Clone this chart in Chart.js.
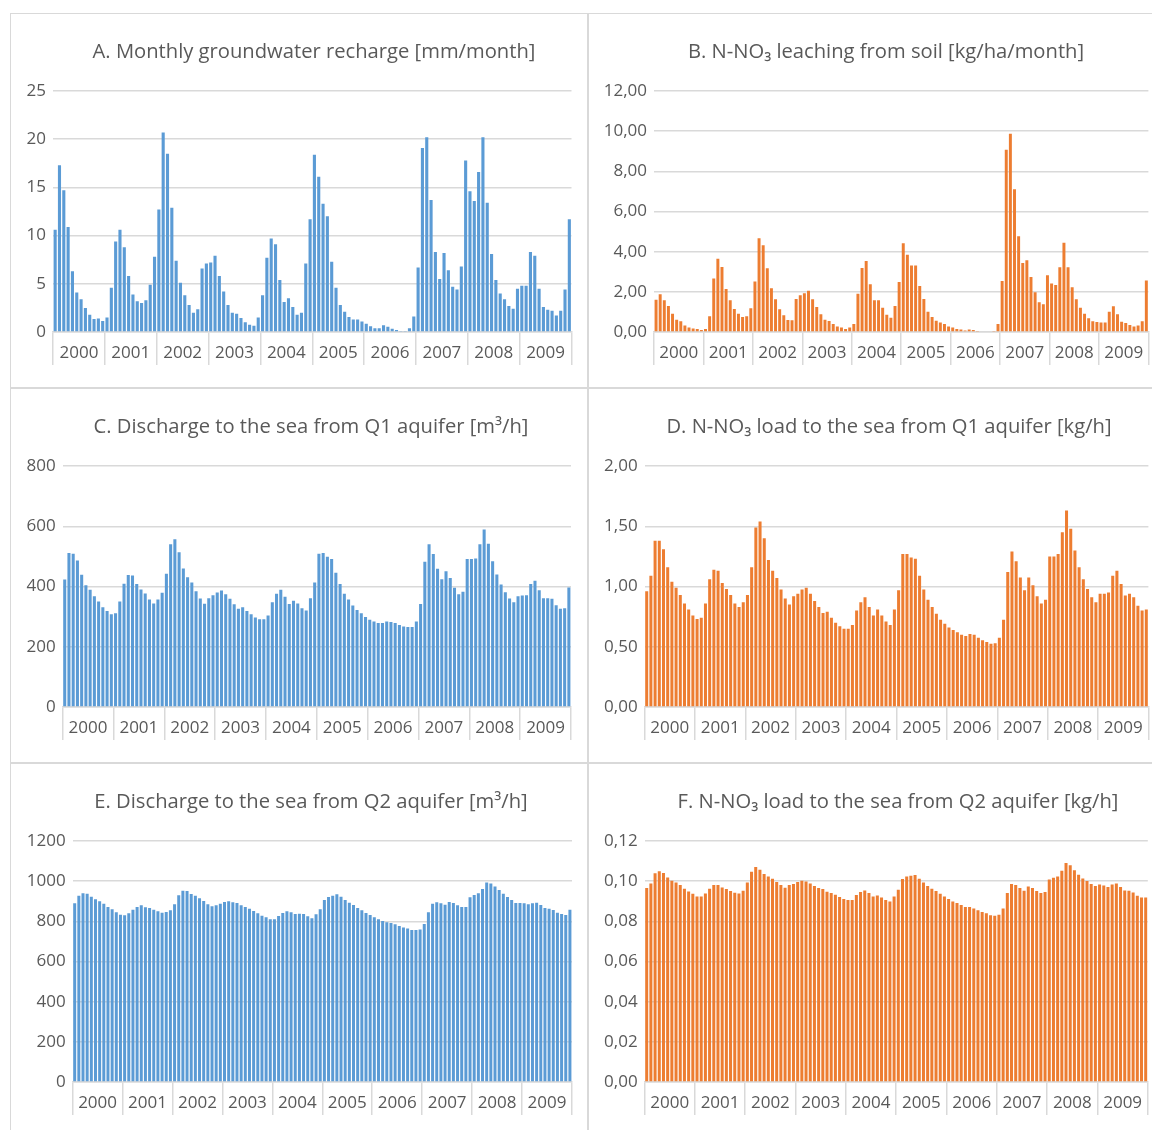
<!DOCTYPE html>
<html>
<head>
<meta charset="utf-8">
<script src="https://cdn.jsdelivr.net/npm/chart.js@4.4.1/dist/chart.umd.min.js"></script>
<style>
body { margin: 0; background: #fff; width: 1152px; height: 1130px; overflow: hidden; position: relative; }
.panel { position: absolute; width: 578px; height: 375px; box-shadow: inset 0 0 0 1px #d9d9d9; }
</style>
</head>
<body>
<div class="panel" style="left:10px; top:13px"><canvas id="chartA"></canvas></div>
<div class="panel" style="left:588px; top:13px"><canvas id="chartB"></canvas></div>
<div class="panel" style="left:10px; top:388px"><canvas id="chartC"></canvas></div>
<div class="panel" style="left:588px; top:388px"><canvas id="chartD"></canvas></div>
<div class="panel" style="left:10px; top:763px"><canvas id="chartE"></canvas></div>
<div class="panel" style="left:588px; top:763px"><canvas id="chartF"></canvas></div>
<script>
const years = ['2000', '2001', '2002', '2003', '2004', '2005', '2006', '2007', '2008', '2009'];

// monthly values, jan 2000 .. dec 2009
const recharge = [
  10.6, 17.3, 14.7, 10.9, 6.3, 4.1, 3.4, 2.5, 1.8, 1.35, 1.4, 1.15,
  1.5, 4.6, 9.4, 10.6, 8.8, 5.8, 3.9, 3.2, 3.0, 3.3, 4.9, 7.8,
  12.7, 20.7, 18.5, 12.9, 7.4, 5.1, 3.8, 2.8, 2.0, 2.35, 6.6, 7.1,
  7.2, 7.9, 5.8, 4.2, 2.8, 2.0, 1.9, 1.45, 1.0, 0.75, 0.65, 1.5,
  3.8, 7.7, 9.7, 9.1, 5.4, 3.1, 3.5, 2.6, 1.8, 2.0, 7.1, 11.7,
  18.4, 16.1, 13.3, 12.0, 7.3, 4.6, 2.8, 2.1, 1.55, 1.3, 1.3, 1.1,
  0.85, 0.6, 0.4, 0.4, 0.7, 0.55, 0.35, 0.2, 0.1, 0.1, 0.4, 1.6,
  6.7, 19.1, 20.2, 13.7, 8.3, 5.5, 8.2, 6.4, 4.7, 4.4, 6.8, 17.8,
  14.6, 13.6, 16.6, 20.2, 13.4, 8.1, 5.4, 4.0, 3.4, 2.7, 2.4, 4.5,
  4.8, 4.8, 8.3, 7.9, 4.5, 2.6, 2.3, 2.2, 1.7, 2.2, 4.4, 11.7
];
const leaching = [
  1.6, 1.88, 1.58, 1.3, 0.91, 0.61, 0.53, 0.32, 0.23, 0.18, 0.15, 0.1,
  0.15, 0.78, 2.66, 3.65, 3.24, 2.14, 1.58, 1.15, 0.91, 0.75, 0.78, 1.18,
  2.52, 4.67, 4.32, 3.17, 2.18, 1.63, 1.13, 0.83, 0.6, 0.58, 1.64, 1.83,
  1.93, 2.06, 1.63, 1.25, 0.88, 0.61, 0.55, 0.4, 0.27, 0.22, 0.15, 0.23,
  0.4, 1.9, 3.19, 3.54, 2.38, 1.58, 1.58, 1.21, 0.86, 0.71, 1.3, 2.49,
  4.42, 3.85, 3.31, 3.31, 2.29, 1.64, 1.01, 0.75, 0.56, 0.47, 0.4, 0.28,
  0.23, 0.15, 0.12, 0.08, 0.13, 0.1, 0.05, 0, 0, 0, 0.05, 0.4,
  2.54, 9.07, 9.87, 7.11, 4.77, 3.44, 3.57, 2.74, 1.98, 1.48, 1.38, 2.82,
  2.41, 2.34, 3.22, 4.45, 3.22, 2.23, 1.63, 1.21, 0.91, 0.68, 0.53, 0.5,
  0.47, 0.47, 1.01, 1.28, 0.88, 0.51, 0.45, 0.35, 0.27, 0.32, 0.53, 2.56
];
const dischargeQ1 = [
  423, 511, 509, 486, 439, 404, 389, 368, 350, 331, 319, 308,
  311, 350, 409, 438, 437, 408, 390, 377, 357, 344, 357, 379,
  442, 540, 557, 514, 460, 431, 413, 384, 360, 343, 361, 371,
  380, 387, 374, 359, 341, 326, 331, 319, 308, 297, 291, 291,
  304, 348, 376, 389, 366, 342, 353, 344, 328, 320, 361, 413,
  509, 511, 499, 491, 446, 408, 376, 357, 337, 322, 311, 299,
  290, 284, 279, 279, 284, 282, 279, 272, 267, 266, 266, 284,
  342, 482, 540, 508, 459, 424, 451, 428, 396, 374, 383, 491,
  491, 493, 540, 589, 542, 484, 440, 407, 381, 360, 348, 368,
  370, 371, 408, 419, 388, 361, 361, 359, 338, 326, 328, 397
];
const loadQ1 = [
  0.96, 1.09, 1.38, 1.38, 1.31, 1.16, 1.04, 0.99, 0.93, 0.86, 0.81, 0.76,
  0.73, 0.74, 0.86, 1.06, 1.14, 1.13, 1.03, 0.98, 0.93, 0.86, 0.83, 0.87,
  0.93, 1.16, 1.49, 1.54, 1.40, 1.22, 1.13, 1.07, 0.975, 0.90, 0.85, 0.92,
  0.94, 0.975, 0.99, 0.94, 0.88, 0.83, 0.78, 0.79, 0.74, 0.70, 0.67, 0.65,
  0.65, 0.68, 0.80, 0.87, 0.91, 0.83, 0.76, 0.81, 0.76, 0.71, 0.68, 0.81,
  0.97, 1.27, 1.27, 1.24, 1.23, 1.09, 0.975, 0.89, 0.83, 0.775, 0.725, 0.69,
  0.66, 0.64, 0.62, 0.60, 0.59, 0.605, 0.60, 0.575, 0.555, 0.54, 0.525, 0.53,
  0.575, 0.725, 1.12, 1.29, 1.21, 1.075, 0.97, 1.075, 1.01, 0.92, 0.86, 0.89,
  1.25, 1.25, 1.27, 1.45, 1.63, 1.48, 1.30, 1.16, 1.06, 0.98, 0.91, 0.87,
  0.94, 0.94, 0.95, 1.09, 1.13, 1.02, 0.925, 0.94, 0.91, 0.84, 0.80, 0.81
];
const dischargeQ2 = [
  890, 928, 940, 938, 923, 910, 900, 888, 872, 860, 845, 833,
  830, 840, 858, 872, 880, 870, 866, 858, 850, 843, 847, 855,
  885, 930, 953, 951, 936, 928, 915, 901, 885, 875, 880, 888,
  896, 900, 895, 891, 880, 872, 863, 852, 840, 828, 820, 810,
  810, 827, 842, 850, 845, 837, 838, 837, 825, 815, 835, 860,
  906, 921, 928, 935, 923, 906, 893, 881, 867, 855, 842, 832,
  820, 810, 802, 795, 792, 785, 777, 769, 764, 757, 757, 760,
  787, 845, 888, 895, 890, 883, 896, 891, 880, 872, 872, 920,
  931, 940, 961, 994, 989, 973, 956, 938, 921, 906, 891, 891,
  890, 885, 890, 893, 881, 867, 863, 857, 843, 837, 832, 858
];
const loadQ2 = [
  0.0966, 0.0989, 0.1039, 0.1049, 0.1041, 0.1019, 0.1002, 0.0993, 0.0981, 0.0963, 0.0949, 0.0938,
  0.0924, 0.0924, 0.0939, 0.0963, 0.0981, 0.0981, 0.0969, 0.0961, 0.0951, 0.0943, 0.0939, 0.0953,
  0.0993, 0.1047, 0.1071, 0.1057, 0.1036, 0.1024, 0.1012, 0.0996, 0.0981, 0.0968, 0.0981, 0.0986,
  0.0996, 0.1002, 0.0999, 0.0989, 0.0976, 0.0966, 0.0961, 0.0948, 0.0941, 0.0933, 0.0921, 0.0911,
  0.0906, 0.0906, 0.0931, 0.0946, 0.0954, 0.0941, 0.0924, 0.0929, 0.0919, 0.0906, 0.0899, 0.0924,
  0.0958, 0.1011, 0.1024, 0.1027, 0.1031, 0.1012, 0.0993, 0.0976, 0.0963, 0.0951, 0.0938, 0.0924,
  0.0911, 0.0899, 0.0891, 0.0881, 0.0871, 0.0871, 0.0864, 0.0855, 0.0846, 0.0840, 0.0830, 0.0828,
  0.0833, 0.0864, 0.0941, 0.0986, 0.0981, 0.0966, 0.0953, 0.0973, 0.0966, 0.0951, 0.0941, 0.0946,
  0.1009, 0.1017, 0.1024, 0.1052, 0.1091, 0.1079, 0.1054, 0.1032, 0.1014, 0.1001, 0.0986, 0.0976,
  0.0984, 0.0978, 0.0971, 0.0984, 0.0989, 0.0971, 0.0954, 0.0953, 0.0944, 0.0928, 0.0919, 0.0919
];

// one label per month, years only shown on the second axis
const months = [];
years.forEach(y => {
  for (let m = 1; m <= 12; m++) months.push(y + '-' + m);
});

const blue = '#5B9BD5';
const orange = '#ED7D31';
const grey = '#d9d9d9';
const textCol = '#595959';

Chart.defaults.font.family = "'Open Sans', sans-serif";
Chart.defaults.color = textCol;

const plain = v => String(v);
const comma2 = v => Number(v).toFixed(2).replace('.', ',');

// excel does not centre the titles exactly, move them to where they sit
const titleShift = {
  id: 'titleShift',
  afterLayout(chart, args, opts) {
    const tb = chart.titleBlock;
    if (!tb || opts.center == null) return;
    const half = (tb.right - tb.left) / 2;
    tb.left = opts.center - half;
    tb.right = opts.center + half;
  }
};

function makeChart(id, title, values, color, yMax, yStep, fmt, yWidth, padRight, titleCenter) {
  return new Chart(document.getElementById(id), {
    type: 'bar',
    plugins: [titleShift],
    data: {
      labels: months,
      datasets: [{
        data: values,
        backgroundColor: color,
        barPercentage: 0.72,
        categoryPercentage: 1,
        xAxisID: 'x',
        yAxisID: 'y'
      }]
    },
    options: {
      responsive: true,
      maintainAspectRatio: false,
      animation: false,
      layout: { padding: { left: 0, right: padRight, top: 0, bottom: 0 } },
      plugins: {
        legend: { display: false },
        tooltip: { enabled: false },
        titleShift: { center: titleCenter },
        title: {
          display: true,
          text: title,
          color: textCol,
          font: { size: 20.2, weight: 'normal' },
          padding: { top: 27, bottom: 26.8 }
        }
      },
      scales: {
        x: { display: false, offset: true },
        x2: {
          type: 'category',
          labels: years,
          position: 'bottom',
          offset: true,
          grid: { offset: true, drawOnChartArea: false, drawTicks: true, tickLength: 33, color: grey, lineWidth: 1.5 },
          border: { color: grey, width: 1.5 },
          ticks: { font: { size: 17 }, color: textCol, padding: -22, maxRotation: 0, autoSkip: false },
          afterFit: s => { s.height = 56; }
        },
        y: {
          min: 0,
          max: yMax,
          ticks: { stepSize: yStep, font: { size: 17 }, color: textCol, padding: 7, callback: v => fmt(v) },
          grid: { color: grey, lineWidth: 1.5, drawTicks: false },
          border: { display: false },
          afterFit: s => { s.width = yWidth; }
        }
      }
    }
  });
}

makeChart('chartA', 'A. Monthly groundwater recharge [mm/month]', recharge, blue, 25, 5, plain, 43, 16.5, 304);
makeChart('chartB', 'B. N-NO\u2083 leaching from soil [kg/ha/month]', leaching, orange, 12, 2, comma2, 66, 17.6, 298);
makeChart('chartC', 'C. Discharge to the sea from Q1 aquifer [m\u00b3/h]', dischargeQ1, blue, 800, 200, plain, 52.6, 17, 301);
makeChart('chartD', 'D. N-NO\u2083 load to the sea from Q1 aquifer [kg/h]', loadQ1, orange, 2, 0.5, comma2, 56.6, 17.6, 301);
makeChart('chartE', 'E. Discharge to the sea from Q2 aquifer [m\u00b3/h]', dischargeQ2, blue, 1200, 200, plain, 62.6, 16, 301);
makeChart('chartF', 'F. N-NO\u2083 load to the sea from Q2 aquifer [kg/h]', loadQ2, orange, 0.12, 0.02, comma2, 56.6, 18.2, 310);
</script>
</body>
</html>
